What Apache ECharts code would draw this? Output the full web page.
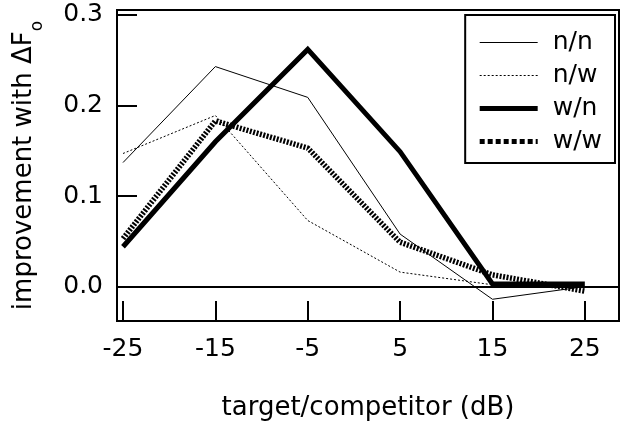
<!DOCTYPE html>
<html><head><meta charset="utf-8">
<script src="https://cdn.jsdelivr.net/npm/echarts@6/dist/echarts.min.js"></script>
<style>html,body{margin:0;padding:0;background:#fff}#c{width:621px;height:426px}</style>
</head><body><div id="c"></div>
<script>
const snr = [-25, -15, -5, 5, 15, 25];
const xTicks = [-25, -15, -5, 5, 15, 25];
const yTicks = [0, 0.1, 0.2, 0.3];
const nn = [0.137, 0.243, 0.209, 0.058, -0.014, 0.0];
const nw = [0.147, 0.189, 0.073, 0.016, 0.002, 0.0];
const wn = [0.044, 0.160, 0.262, 0.149, 0.003, 0.003];
const ww = [0.053, 0.183, 0.153, 0.049, 0.013, -0.005];
const names = ['n/n', 'n/w', 'w/n', 'w/w'];

const FONT = 'DejaVu Sans';
const pairs = v => snr.map((x, i) => [x, v[i]]);
const chart = echarts.init(document.getElementById('c'));
const mk = (name, vals, width, type, z) => ({
  name, type: 'line', data: pairs(vals), symbol: 'none', z,
  lineStyle: { color: '#000', width, type, cap: 'butt', join: 'miter' },
  itemStyle: { color: '#000' }, animation: false
});
const series = [
  mk(names[0], nn, 1, 'solid', 3),
  mk(names[1], nw, 1, [2, 2], 3),
  mk(names[2], wn, 5, 'solid', 4),
  mk(names[3], ww, 5.5, [2, 1.5], 5)
];
series[0].markLine = {
  silent: true, symbol: ['none', 'none'], label: { show: false },
  lineStyle: { color: '#000', width: 2, type: 'solid' },
  data: [{ yAxis: 0 }], animation: false
};
const legendStyles = [
  { width: 1, type: 'solid' },
  { width: 1, type: [2, 2] },
  { width: 5, type: 'solid' },
  { width: 5, type: [5, 3] }
];
chart.setOption({
  animation: false,
  backgroundColor: '#fff',
  grid: { left: 117, right: 2, top: 10, bottom: 101, show: true, borderColor: '#000', borderWidth: 2, backgroundColor: 'transparent' },
  xAxis: {
    type: 'value', min: -25.65, max: 28.7,
    name: 'target/competitor (dB)', nameLocation: 'middle', nameGap: 74,
    nameTextStyle: { fontFamily: FONT, fontSize: 26, color: '#000' },
    axisLine: { show: true, onZero: false, lineStyle: { color: '#000', width: 2 } },
    axisTick: { show: true, inside: true, length: 20, customValues: xTicks, lineStyle: { color: '#000', width: 2 } },
    axisLabel: { customValues: xTicks, margin: 16, fontFamily: FONT, fontSize: 25, color: '#000' },
    splitLine: { show: false }
  },
  yAxis: {
    type: 'value', min: -0.038, max: 0.3055,
    name: '{a|improvement with ΔF}{b|o}', nameLocation: 'middle', nameGap: 80, nameRotate: 90,
    nameTextStyle: { rich: {
      a: { fontFamily: FONT, fontSize: 26, color: '#000' },
      b: { fontFamily: FONT, fontSize: 17, color: '#000', verticalAlign: 'bottom', padding: [0, 0, -9, 0] }
    } },
    axisLine: { show: true, onZero: false, lineStyle: { color: '#000', width: 2 } },
    axisTick: { show: true, inside: true, length: 20, customValues: yTicks, lineStyle: { color: '#000', width: 2 } },
    axisLabel: { customValues: yTicks, margin: 14, fontFamily: FONT, fontSize: 25, color: '#000', formatter: v => v.toFixed(1) },
    splitLine: { show: false }
  },
  legend: {
    right: 6, top: 15, orient: 'vertical',
    padding: [15, 13, 9, 12], itemGap: 8, itemWidth: 58, itemHeight: 14,
    backgroundColor: '#fff', borderColor: '#000', borderWidth: 2,
    itemStyle: { color: 'rgba(0,0,0,0)', borderWidth: 0 },
    textStyle: { fontFamily: FONT, fontSize: 25, color: '#000', padding: [0, 0, 0, 10] },
    data: names.map((n, i) => ({ name: n, lineStyle: Object.assign({ color: '#000' }, legendStyles[i]), itemStyle: { color: 'rgba(0,0,0,0)', borderWidth: 0 } }))
  },
  series
});
</script></body></html>
